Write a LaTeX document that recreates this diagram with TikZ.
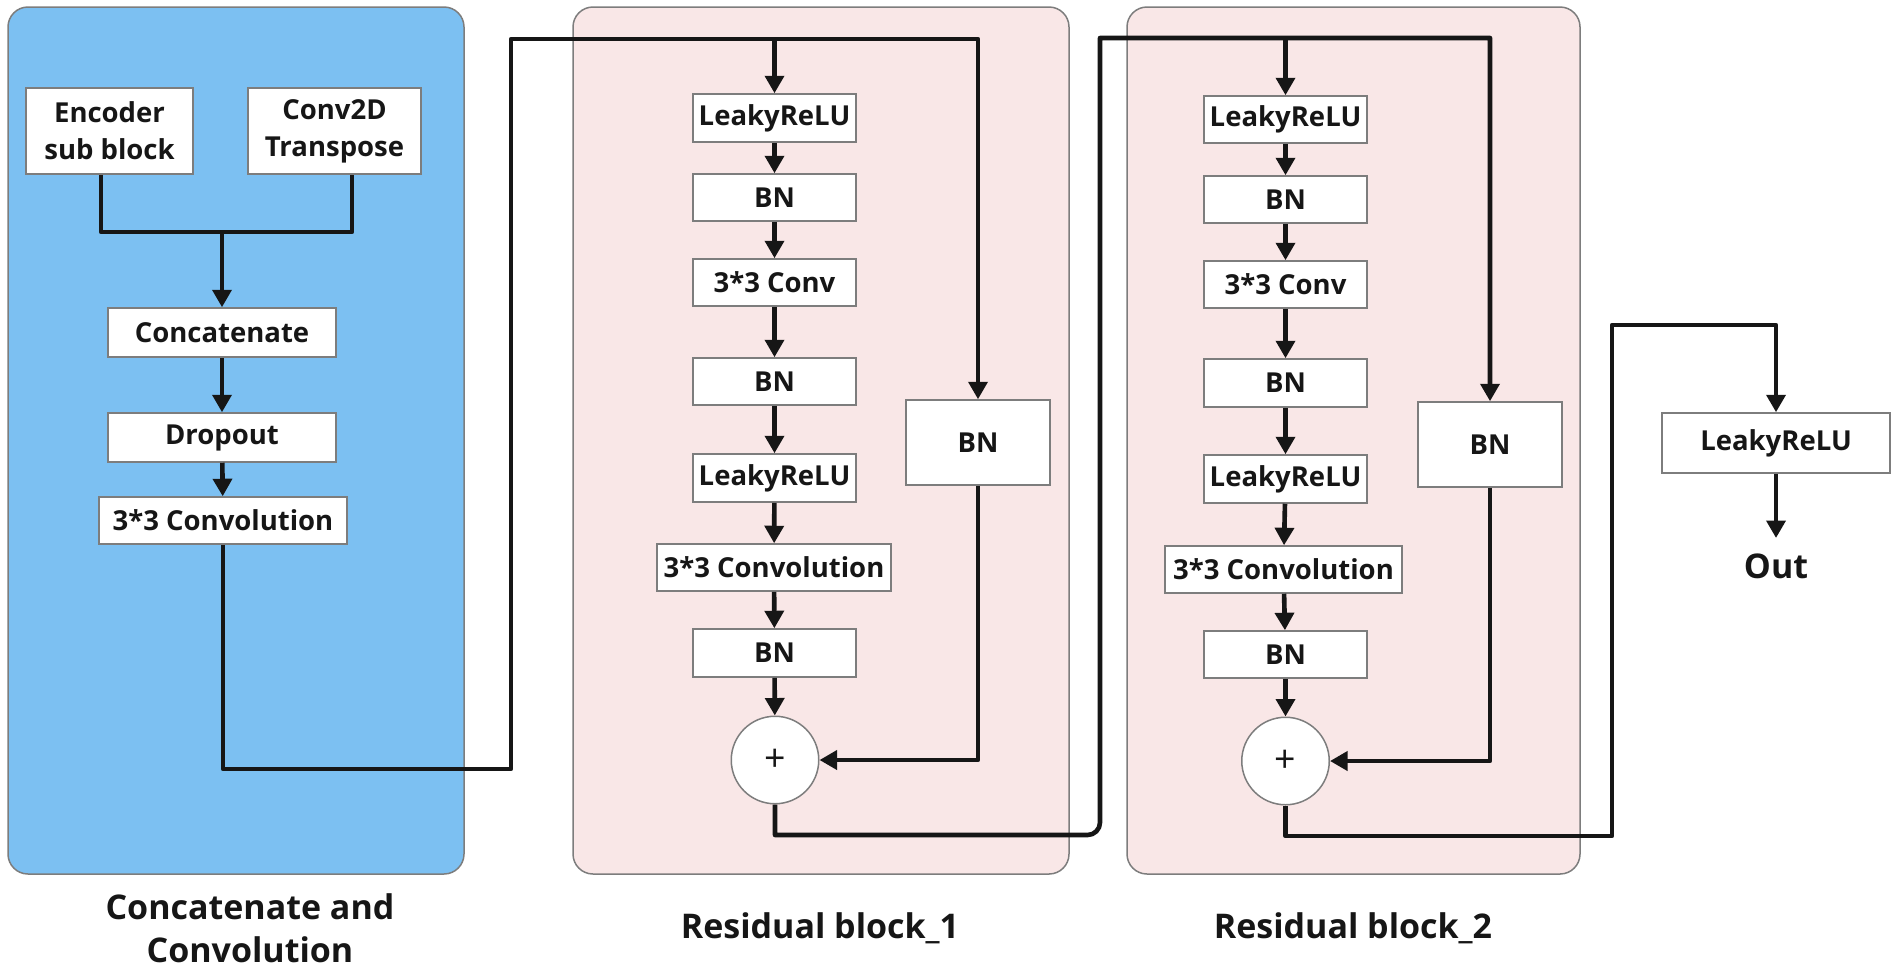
\documentclass[tikz,border=0pt]{standalone}
\usepackage{fontspec}
\setmainfont{Open Sans}
\usetikzlibrary{arrows.meta}
\definecolor{panelblue}{RGB}{124,192,242}
\definecolor{panelpink}{RGB}{249,231,231}
\definecolor{edgegray}{RGB}{125,125,125}
\definecolor{ink}{RGB}{22,22,22}
\newcommand\mybox[6]{\node[box, minimum width={(#4-#2)*0.4pt}, minimum height={(#5-#3)*0.4pt}] (#1) at ({(#2+#4)/2},{(#3+#5)/2}) {#6};}
\begin{document}
\begin{tikzpicture}[x=0.4pt, y=-0.4pt,
  panel/.style={draw=edgegray, line width=0.6pt, rounded corners=8pt},
  box/.style={draw=edgegray, fill=white, line width=0.6pt, inner sep=0pt, align=center,
    font=\fontsize{11}{14.8}\selectfont\bfseries, text=ink},
  wire/.style={line width=1.85pt, draw=ink, line join=round},
  arr/.style={wire, -{Triangle[width=7.5pt,length=7pt]}},
  lab/.style={font=\fontsize{13.6}{17.2}\selectfont\bfseries, text=ink, align=center},
  addnode/.style={circle, draw=edgegray, fill=white, line width=0.6pt, minimum size=35pt,
    inner sep=0pt, font=\fontsize{15}{15}\selectfont, text=ink}]
\useasboundingbox (0,0) rectangle (1897,968);

% panels
\draw[panel, fill=panelblue] (8,7) rectangle (464,874);
\draw[panel, fill=panelpink] (573,7) rectangle (1069,874);
\draw[panel, fill=panelpink] (1127,7) rectangle (1580,874);

% left panel boxes
\mybox{enc}{26}{88}{193}{174}{Encoder\\sub block}
\mybox{tconv}{248}{88}{421}{174}{Conv2D\\Transpose}
\mybox{concat}{108}{308}{336}{357}{Concatenate}
\mybox{drop}{108}{413}{336}{462}{Dropout}
\mybox{cthree}{99}{497}{347}{544}{3*3 Convolution}

% residual block 1
\mybox{ra}{693}{94}{856}{142}{LeakyReLU}
\mybox{rb}{693}{174}{856}{221}{BN}
\mybox{rc}{693}{259}{856}{306}{3*3 Conv}
\mybox{rd}{693}{358}{856}{405}{BN}
\mybox{re}{693}{454}{856}{502}{LeakyReLU}
\mybox{rf}{657}{544}{891}{591}{3*3 Convolution}
\mybox{rg}{693}{629}{856}{677}{BN}
\mybox{sa}{906}{400}{1050}{485}{BN}
\node[addnode] (adda) at (775,760) {+};

% residual block 2
\mybox{qa}{1204}{96}{1367}{143}{LeakyReLU}
\mybox{qb}{1204}{176}{1367}{223}{BN}
\mybox{qc}{1204}{261}{1367}{308}{3*3 Conv}
\mybox{qd}{1204}{359}{1367}{407}{BN}
\mybox{qe}{1204}{455}{1367}{503}{LeakyReLU}
\mybox{qf}{1165}{546}{1402}{593}{3*3 Convolution}
\mybox{qg}{1204}{631}{1367}{678}{BN}
\mybox{sb}{1418}{402}{1562}{487}{BN}
\node[addnode] (addb) at (1285.5,761) {+};

% final
\mybox{fin}{1662}{413}{1890}{473}{LeakyReLU}
\node[lab, inner xsep=0pt, inner ysep=6pt] (out) at (1776,566) {Out};

% labels
\node[lab] (labA) at (250,928) {Concatenate and\\Convolution};
\node[lab, anchor=base] (labB) at (820,938) {Residual block\_1};
\node[lab, anchor=base] (labC) at (1353,938) {Residual block\_2};

% coordinates
\coordinate (jl) at (101,232);
\coordinate (jr) at (352,232);
\coordinate (jm) at (222,232);
\coordinate (b1) at (223,769);
\coordinate (b2) at (511,769);
\coordinate (b3) at (511,39);
\coordinate (b4) at (978,39);
\coordinate (t1) at (774.5,39);
\coordinate (c1) at (775,835);
\coordinate (c2) at (1100,835);
\coordinate (c3) at (1100,38);
\coordinate (c4) at (1490,38);
\coordinate (t2) at (1285.5,38);
\coordinate (d1) at (1285.5,836);
\coordinate (d2) at (1612,836);
\coordinate (d3) at (1612,325);
\coordinate (d4) at (1776,325);

% left panel wires
\draw[wire] (enc.south -| jl) -- (jl) -- (jr) -- (tconv.south -| jr);
\draw[arr] (jm) -- (concat.north);
\draw[arr] (concat) -- (drop);
\draw[arr] (drop) -- (cthree);

% into block 1
\draw[arr] (cthree.south) -- (b1) -- (b2) -- (b3) -- (b4) -- (sa.north);
\draw[arr] (t1) -- (ra.north);
\draw[arr] (ra) -- (rb);
\draw[arr] (rb) -- (rc);
\draw[arr] (rc) -- (rd);
\draw[arr] (rd) -- (re);
\draw[arr] (re) -- (rf);
\draw[arr] (rf) -- (rg);
\draw[arr] (rg) -- (adda);
\draw[arr] (sa.south) |- (adda.east);

% into block 2
\draw[arr] (adda.south) -- (c1) [rounded corners=5pt] -- (c2) [sharp corners] -- (c3) -- (c4) -- (sb.north);
\draw[arr] (t2) -- (qa.north);
\draw[arr] (qa) -- (qb);
\draw[arr] (qb) -- (qc);
\draw[arr] (qc) -- (qd);
\draw[arr] (qd) -- (qe);
\draw[arr] (qe) -- (qf);
\draw[arr] (qf) -- (qg);
\draw[arr] (qg) -- (addb);
\draw[arr] (sb.south) |- (addb.east);

% to output
\draw[arr] (addb.south) -- (d1) -- (d2) -- (d3) -- (d4) -- (fin.north);
\draw[arr] (fin) -- (out);
\end{tikzpicture}
\end{document}
